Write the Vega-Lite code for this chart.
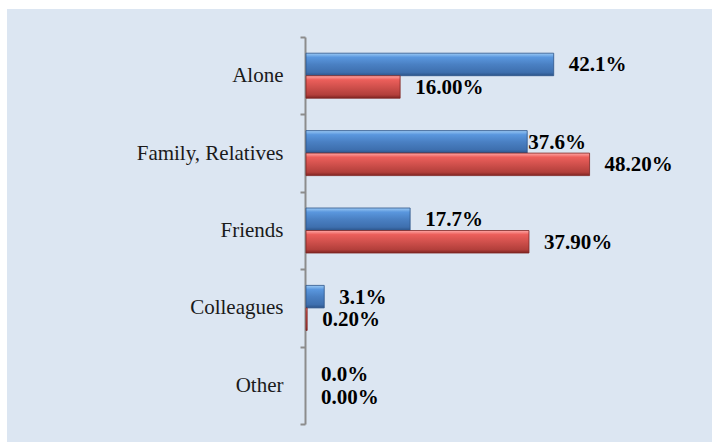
{
  "$schema": "https://vega.github.io/schema/vega-lite/v6.json",
  "width": 705,
  "height": 433,
  "padding": {"left": 7, "top": 9, "right": 0, "bottom": 0},
  "autosize": {"type": "none"},
  "background": "white",
  "config": {"view": {"fill": "#dce6f2", "stroke": null}},
  "data": {
    "values": [
      {"cat": "Alone", "series": "A", "value": 42.1, "label": "42.1%"},
      {"cat": "Alone", "series": "B", "value": 16.0, "label": "16.00%"},
      {"cat": "Family, Relatives", "series": "A", "value": 37.6, "label": "37.6%"},
      {"cat": "Family, Relatives", "series": "B", "value": 48.2, "label": "48.20%"},
      {"cat": "Friends", "series": "A", "value": 17.7, "label": "17.7%"},
      {"cat": "Friends", "series": "B", "value": 37.9, "label": "37.90%"},
      {"cat": "Colleagues", "series": "A", "value": 3.1, "label": "3.1%"},
      {"cat": "Colleagues", "series": "B", "value": 0.2, "label": "0.20%"},
      {"cat": "Other", "series": "A", "value": 0.0, "label": "0.0%"},
      {"cat": "Other", "series": "B", "value": 0.0, "label": "0.00%"}
    ]
  },
  "encoding": {
    "y": {
      "field": "cat",
      "type": "nominal",
      "sort": ["Alone", "Family, Relatives", "Friends", "Colleagues", "Other"],
      "scale": {"range": [28, 415], "paddingInner": 0, "paddingOuter": 0},
      "axis": {
        "title": null,
        "offset": -298,
        "domainColor": "#8c8c8c",
        "domainWidth": 2,
        "tickColor": "#8c8c8c",
        "tickWidth": 2,
        "tickSize": 5,
        "tickBand": "extent",
        "labelFont": "Liberation Serif",
        "labelFontSize": 21,
        "labelColor": "#1a1a1a",
        "labelPadding": 17,
        "grid": false
      }
    },
    "yOffset": {
      "field": "series",
      "type": "nominal",
      "sort": ["A", "B"],
      "scale": {"paddingOuter": 0.72, "paddingInner": 0}
    },
    "x": {
      "field": "value",
      "type": "quantitative",
      "scale": {"domain": [0, 60], "range": [299, 652]},
      "axis": null
    }
  },
  "layer": [
    {
      "transform": [{"filter": "datum.series == 'A' && datum.value > 0"}],
      "mark": {
        "type": "bar",
        "fill": {
          "gradient": "linear", "x1": 0, "y1": 0, "x2": 0, "y2": 1,
          "stops": [
            {"offset": 0, "color": "#9ccaf5"},
            {"offset": 0.18, "color": "#5a97de"},
            {"offset": 0.5, "color": "#4a80c3"},
            {"offset": 0.85, "color": "#3e6fae"},
            {"offset": 1, "color": "#2c5489"}
          ]
        },
        "stroke": "#2c5489",
        "strokeWidth": 0.8
      }
    },
    {
      "transform": [{"filter": "datum.series == 'B' && datum.value > 0"}],
      "mark": {
        "type": "bar",
        "fill": {
          "gradient": "linear", "x1": 0, "y1": 0, "x2": 0, "y2": 1,
          "stops": [
            {"offset": 0, "color": "#ffa8a6"},
            {"offset": 0.18, "color": "#ec5f5b"},
            {"offset": 0.5, "color": "#d0504c"},
            {"offset": 0.85, "color": "#b23f3b"},
            {"offset": 1, "color": "#7f2422"}
          ]
        },
        "stroke": "#7f2422",
        "strokeWidth": 0.8
      }
    },
    {
      "transform": [{"filter": "datum.label != '37.6%'"}],
      "mark": {"type": "text", "align": "left", "baseline": "middle", "dx": 15, "dy": 1, "font": "Liberation Serif", "fontWeight": "bold", "fontSize": 21, "color": "#000000"},
      "encoding": {"text": {"field": "label"}}
    },
    {
      "transform": [{"filter": "datum.label == '37.6%'"}],
      "mark": {"type": "text", "align": "left", "baseline": "middle", "dx": 1, "dy": 1, "font": "Liberation Serif", "fontWeight": "bold", "fontSize": 21, "color": "#000000"},
      "encoding": {"text": {"field": "label"}}
    }
  ]
}
